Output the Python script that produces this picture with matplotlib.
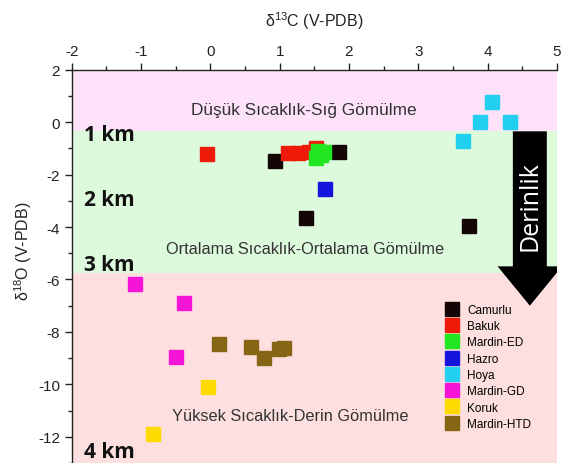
import matplotlib
matplotlib.use("Agg")
import matplotlib.pyplot as plt
from matplotlib.lines import Line2D
from matplotlib.patches import FancyArrow
from matplotlib.ticker import MultipleLocator

plt.rcParams["font.family"] = ["Liberation Sans", "DejaVu Sans"]
plt.rcParams["axes.unicode_minus"] = False

# isotope values per locality: d13C (x) and d18O (y)
names = ["Camurlu", "Bakuk", "Mardin-ED", "Hazro", "Hoya", "Mardin-GD", "Koruk", "Mardin-HTD"]
colors = ["#140606", "#ee1a0a", "#22e622", "#1414dd", "#22cfee", "#f614d8", "#ffda00", "#866514"]

camurlu_c = [0.93, 1.85, 1.38, 3.73]
camurlu_o = [-1.5, -1.15, -3.65, -3.95]
bakuk_c = [-0.05, 1.12, 1.27, 1.42, 1.52]
bakuk_o = [-1.22, -1.18, -1.18, -1.15, -1.0]
mardin_ed_c = [1.52, 1.6, 1.56, 1.64]
mardin_ed_o = [-1.35, -1.25, -1.1, -1.15]
hazro_c = [1.66]
hazro_o = [-2.55]
hoya_c = [3.65, 3.89, 4.07, 4.33]
hoya_o = [-0.72, 0.0, 0.77, 0.0]
mardin_gd_c = [-1.09, -0.38, -0.49]
mardin_gd_o = [-6.19, -6.89, -8.94]
koruk_c = [-0.03, -0.83]
koruk_o = [-10.09, -11.9]
mardin_htd_c = [0.13, 0.58, 0.78, 0.99, 1.06]
mardin_htd_o = [-8.45, -8.58, -9.0, -8.66, -8.62]

series_c = [camurlu_c, bakuk_c, mardin_ed_c, hazro_c, hoya_c, mardin_gd_c, koruk_c, mardin_htd_c]
series_o = [camurlu_o, bakuk_o, mardin_ed_o, hazro_o, hoya_o, mardin_gd_o, koruk_o, mardin_htd_o]

# burial zones (d18O limits) and their captions
zone_edges = [2, -0.35, -5.75, -13]
zone_colors = ["#fde2fa", "#ddfadd", "#fddfdf"]
zone_names = ["Düşük Sıcaklık-Sığ Gömülme", "Ortalama Sıcaklık-Ortalama Gömülme", "Yüksek Sıcaklık-Derin Gömülme"]
zone_name_x = [1.35, 1.36, 1.15]
zone_name_y = [0.5, -4.82, -11.17]
zone_name_size = [12.4, 11.8, 11.8]

depth_labels = ["1 km", "2 km", "3 km", "4 km"]
depth_y = [-0.67, -3.15, -5.62, -12.76]

fig = plt.figure(figsize=(5.63, 4.64), dpi=100)
ax = fig.add_axes([0.1274, 0.0, 0.8617, 0.8476])

for top, bottom, col in zip(zone_edges[:-1], zone_edges[1:], zone_colors):
    ax.axhspan(bottom, top, color=col, lw=0, zorder=0)

for name, x, y, fs in zip(zone_names, zone_name_x, zone_name_y, zone_name_size):
    ax.text(x, y, name, ha="center", va="center", fontsize=fs, color="#333333", zorder=2)

for lab, y in zip(depth_labels, depth_y):
    ax.text(-1.82, y, lab, ha="left", va="baseline", fontsize=15,
            fontweight="bold", family="Open Sans", color="#111111", zorder=2)

# depth arrow
arrow = FancyArrow(4.61, -0.35, 0, -6.65, width=0.49, head_width=0.93,
                   head_length=1.5, length_includes_head=True,
                   color="black", lw=0, zorder=3)
ax.add_patch(arrow)
ax.text(4.61, -3.15, "Derinlik", rotation=90, ha="center", va="center",
        fontsize=18, family="Open Sans", color="white", zorder=4)

for xs, ys, col in zip(series_c, series_o, colors):
    ax.plot(xs, ys, ls="none", marker="s", ms=9.5, mfc=col, mec=col, zorder=5)

ax.set_xlim(-2, 5)
ax.set_ylim(-13, 2)
ax.xaxis.tick_top()
ax.xaxis.set_label_position("top")
ax.xaxis.set_major_locator(MultipleLocator(1))
ax.xaxis.set_minor_locator(MultipleLocator(0.5))
ax.yaxis.set_major_locator(MultipleLocator(2))
ax.yaxis.set_minor_locator(MultipleLocator(1))
ax.tick_params(which="major", direction="out", length=5, width=1, labelsize=11, colors="#222222")
ax.tick_params(which="minor", direction="out", length=3, width=1, colors="#222222")
for side in ["bottom", "right"]:
    ax.spines[side].set_visible(False)
for side in ["top", "left"]:
    ax.spines[side].set_linewidth(1)
    ax.spines[side].set_color("#222222")

ax.set_xlabel("δ$^{\\mathregular{13}}$C (V-PDB)", fontsize=11.5, color="#222222")
ax.xaxis.set_label_coords(0.5, 1.11)
ax.set_ylabel("δ$^{\\mathregular{18}}$O (V-PDB)", fontsize=11.5, color="#222222")
ax.yaxis.set_label_coords(-0.077, 0.54)

handles = [Line2D([], [], ls="none", marker="s", ms=10, mfc=c, mec=c) for c in colors]
ax.legend(handles, names, loc="upper left", bbox_to_anchor=(446 / 563, 1 - 305 / 464),
          bbox_transform=fig.transFigure, frameon=False, fontsize=8.5,
          handlelength=1.0, handletextpad=0.8, labelspacing=0.36,
          borderpad=0, borderaxespad=0)

fig.savefig("out.png", dpi=100)
